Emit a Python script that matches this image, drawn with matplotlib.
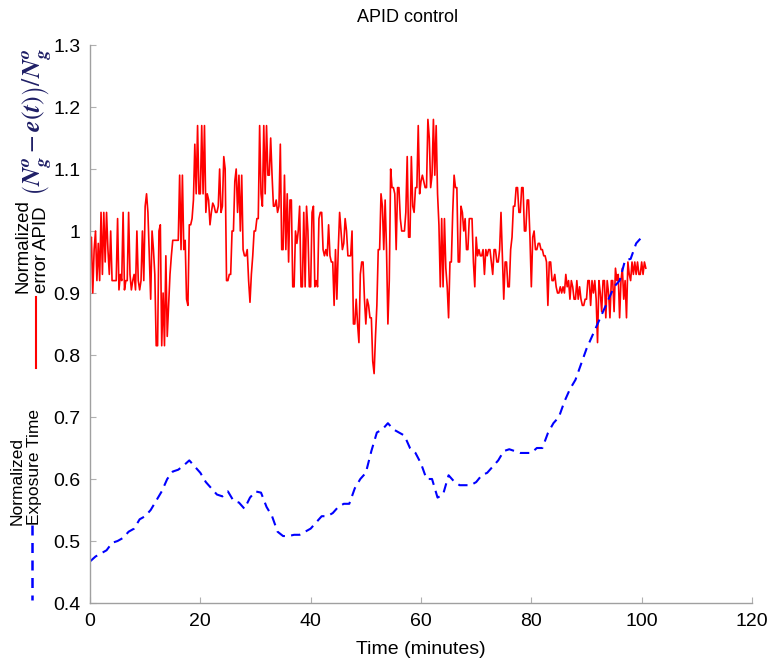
import numpy as np
import matplotlib.pyplot as plt
from matplotlib.lines import Line2D

plt.rcParams['font.family'] = ['Liberation Sans', 'DejaVu Sans']
plt.rcParams['mathtext.fontset'] = 'stix'

# normalized APID error, one sample every quarter minute (0 .. 100.75 min)
err_step = 0.25
err_apid = [
    0.98, 0.99, 0.90, 0.97, 1.00, 0.92, 0.98, 0.92,
    1.03, 0.93, 1.03, 0.95, 1.03, 0.97, 0.93, 1.00,
    0.92, 0.92, 0.92, 0.92, 1.02, 0.905, 0.93, 0.92,
    1.03, 0.905, 0.92, 0.92, 1.03, 0.93, 0.905, 0.92,
    0.93, 0.905, 1.00, 0.92, 0.905, 0.92, 1.00, 0.92,
    1.04, 1.06, 1.03, 0.96, 0.89, 1.00, 0.97, 0.93,
    0.815, 0.815, 1.00, 1.01, 0.815, 0.90, 0.815, 0.96,
    0.83, 0.88, 0.93, 0.96, 0.985, 0.985, 0.985, 0.985,
    0.985, 1.09, 0.97, 1.09, 0.97, 0.985, 0.89, 0.88,
    1.01, 1.01, 1.02, 1.05, 1.14, 1.06, 1.17, 1.06,
    1.06, 1.17, 1.06, 1.17, 1.03, 1.06, 1.05, 1.01,
    1.03, 1.045, 1.04, 1.03, 1.03, 1.04, 1.10, 1.03,
    1.04, 1.12, 1.10, 0.92, 0.92, 0.93, 0.93, 1.00,
    1.00, 1.08, 1.10, 1.03, 1.09, 1.00, 1.09, 0.97,
    0.96, 0.96, 0.97, 0.92, 0.885, 0.93, 0.96, 1.00,
    1.00, 1.02, 1.02, 1.17, 1.06, 1.04, 1.17, 1.06,
    1.17, 1.09, 1.09, 1.15, 1.09, 1.04, 1.04, 1.05,
    1.03, 1.04, 1.14, 0.97, 0.97, 1.09, 0.97, 1.06,
    0.95, 1.05, 1.05, 0.91, 0.91, 1.00, 0.98, 1.00,
    1.04, 0.91, 0.91, 1.03, 0.91, 1.04, 1.00, 0.91,
    0.91, 1.03, 1.04, 0.91, 0.92, 0.91, 1.02, 1.03,
    1.03, 0.97, 0.96, 0.97, 0.96, 1.01, 0.96, 0.95,
    0.95, 0.88, 0.97, 0.89, 0.97, 1.03, 1.00, 0.97,
    0.98, 1.02, 1.00, 0.96, 0.96, 0.96, 1.00, 0.85,
    0.85, 0.89, 0.85, 0.82, 0.93, 0.95, 0.95, 0.89,
    0.85, 0.89, 0.88, 0.86, 0.86, 0.79, 0.77, 0.83,
    0.88, 0.97, 0.97, 1.06, 1.04, 0.97, 1.05, 0.97,
    0.85, 0.92, 1.10, 1.07, 1.07, 1.06, 0.97, 1.07,
    1.07, 1.02, 1.00, 1.00, 1.00, 1.03, 1.12, 0.99,
    0.99, 1.12, 1.04, 1.03, 1.07, 1.07, 1.17, 1.06,
    1.08, 1.09, 1.08, 1.07, 1.07, 1.18, 1.15, 1.07,
    1.09, 1.18, 1.09, 1.17, 1.06, 1.01, 0.91, 1.02,
    0.91, 1.02, 0.94, 0.91, 0.86, 0.95, 0.95, 1.03,
    1.09, 1.07, 1.07, 0.95, 0.95, 1.04, 1.03, 1.00,
    1.02, 0.97, 0.97, 1.02, 1.02, 1.02, 0.95, 0.91,
    0.99, 0.96, 0.97, 0.96, 0.96, 0.97, 0.93, 0.97,
    0.96, 0.97, 0.97, 0.95, 0.93, 0.97, 0.97, 0.95,
    0.95, 0.97, 1.03, 0.96, 0.89, 0.95, 0.95, 0.91,
    0.91, 0.97, 0.99, 1.04, 1.04, 1.07, 1.07, 1.03,
    1.03, 1.07, 1.07, 1.00, 1.00, 1.05, 1.05, 0.99,
    0.91, 0.99, 1.00, 0.97, 0.97, 0.98, 0.98, 0.97,
    0.97, 0.96, 0.96, 0.95, 0.88, 0.95, 0.95, 0.92,
    0.92, 0.93, 0.91, 0.90, 0.90, 0.91, 0.90, 0.91,
    0.90, 0.93, 0.91, 0.92, 0.89, 0.92, 0.91, 0.89,
    0.89, 0.92, 0.89, 0.91, 0.89, 0.88, 0.88, 0.89,
    0.89, 0.92, 0.92, 0.88, 0.92, 0.90, 0.92, 0.89,
    0.82, 0.92, 0.90, 0.87, 0.92, 0.92, 0.86, 0.92,
    0.90, 0.86, 0.92, 0.92, 0.87, 0.94, 0.92, 0.93,
    0.86, 0.92, 0.94, 0.89, 0.92, 0.86, 0.95, 0.93,
    0.92, 0.95, 0.93, 0.95, 0.93, 0.95, 0.93, 0.93,
    0.95, 0.93, 0.95, 0.94,
]

# normalized exposure time, one sample per minute (0 .. 100 min)
exp_step = 1.0
exp_time = [
    0.467, 0.475, 0.48, 0.485, 0.497, 0.50, 0.505, 0.515, 0.52, 0.535,
    0.54, 0.55, 0.565, 0.58, 0.60, 0.612, 0.615, 0.622, 0.63, 0.62,
    0.61, 0.595, 0.585, 0.575, 0.572, 0.58, 0.565, 0.562, 0.552, 0.57,
    0.58, 0.578, 0.555, 0.54, 0.515, 0.508, 0.508, 0.51, 0.51, 0.515,
    0.52, 0.53, 0.54, 0.54, 0.545, 0.555, 0.56, 0.56, 0.585, 0.60,
    0.61, 0.645, 0.675, 0.68, 0.69, 0.68, 0.675, 0.67, 0.65, 0.642,
    0.625, 0.60, 0.60, 0.57, 0.575, 0.606, 0.596, 0.59, 0.59, 0.59,
    0.595, 0.606, 0.61, 0.62, 0.63, 0.645, 0.648, 0.645, 0.642, 0.642,
    0.642, 0.65, 0.65, 0.674, 0.69, 0.70, 0.725, 0.745, 0.76, 0.785,
    0.81, 0.83, 0.85, 0.87, 0.89, 0.91, 0.92, 0.953, 0.955, 0.98,
    0.99,
]

xticks = [0, 20, 40, 60, 80, 100, 120]
yticks = [0.4, 0.5, 0.6, 0.7, 0.8, 0.9, 1.0, 1.1, 1.2, 1.3]
ytick_labels = ['0.4', '0.5', '0.6', '0.7', '0.8', '0.9', '1', '1.1', '1.2', '1.3']

t_err = np.arange(len(err_apid)) * err_step
t_exp = np.arange(len(exp_time)) * exp_step

W, H = 777, 660
fig = plt.figure(figsize=(W / 100, H / 100), dpi=100)
ax = fig.add_axes([90 / W, 1 - 603 / H, 662 / W, 558 / H])

ax.plot(t_err, err_apid, color='#ff0000', lw=1.2)
ax.plot(t_exp, exp_time, color='#0000ff', lw=1.5, ls=(0, (4.5, 3)))

ax.set_xlim(0, 120)
ax.set_ylim(0.4, 1.3)
ax.set_xticks(xticks)
ax.set_yticks(yticks)
ax.set_yticklabels(ytick_labels)
ax.tick_params(direction='in', length=4, color='#b0b0b0', labelsize=14, pad=7)
for side in ['top', 'right']:
    ax.spines[side].set_visible(False)
for side in ['left', 'bottom']:
    ax.spines[side].set_color('#a0a0a0')
    ax.spines[side].set_linewidth(1.0)

fig.text(408 / W, 1 - 18 / H, 'APID control', ha='center', va='center', fontsize=13)
fig.text(421 / W, 1 - 650 / H, 'Time (minutes)', ha='center', va='center', fontsize=14)

# y label: APID error block
fig.text(32 / W, 1 - 293 / H, 'Normalized\nerror APID', rotation=90, ha='center', va='bottom',
         multialignment='left', linespacing=1.15, fontsize=13.4)
fig.text(37 / W, 1 - 122 / H,
         r'$\left(\mathbfit{N}_{\mathbfit{g}}^{\mathbfit{o}} - \mathbfit{e}(\mathbfit{t})\right)/\mathbfit{N}_{\mathbfit{g}}^{\mathbfit{o}}$',
         rotation=90, ha='center', va='center', fontsize=18.5, color='#1f1f66')
fig.add_artist(Line2D([36 / W, 36 / W], [1 - 297 / H, 1 - 368 / H], color='#ff0000', lw=1.5))

# y label: exposure time block
fig.text(26 / W, 1 - 525 / H, 'Normalized\nExposure Time', rotation=90, ha='center', va='bottom',
         multialignment='left', linespacing=1.15, fontsize=12.5)
fig.add_artist(Line2D([32 / W, 32 / W], [1 - 525 / H, 1 - 600 / H], color='#0000ff', lw=1.8,
                      ls=(0, (4, 3))))

fig.savefig('out.png', dpi=100)
